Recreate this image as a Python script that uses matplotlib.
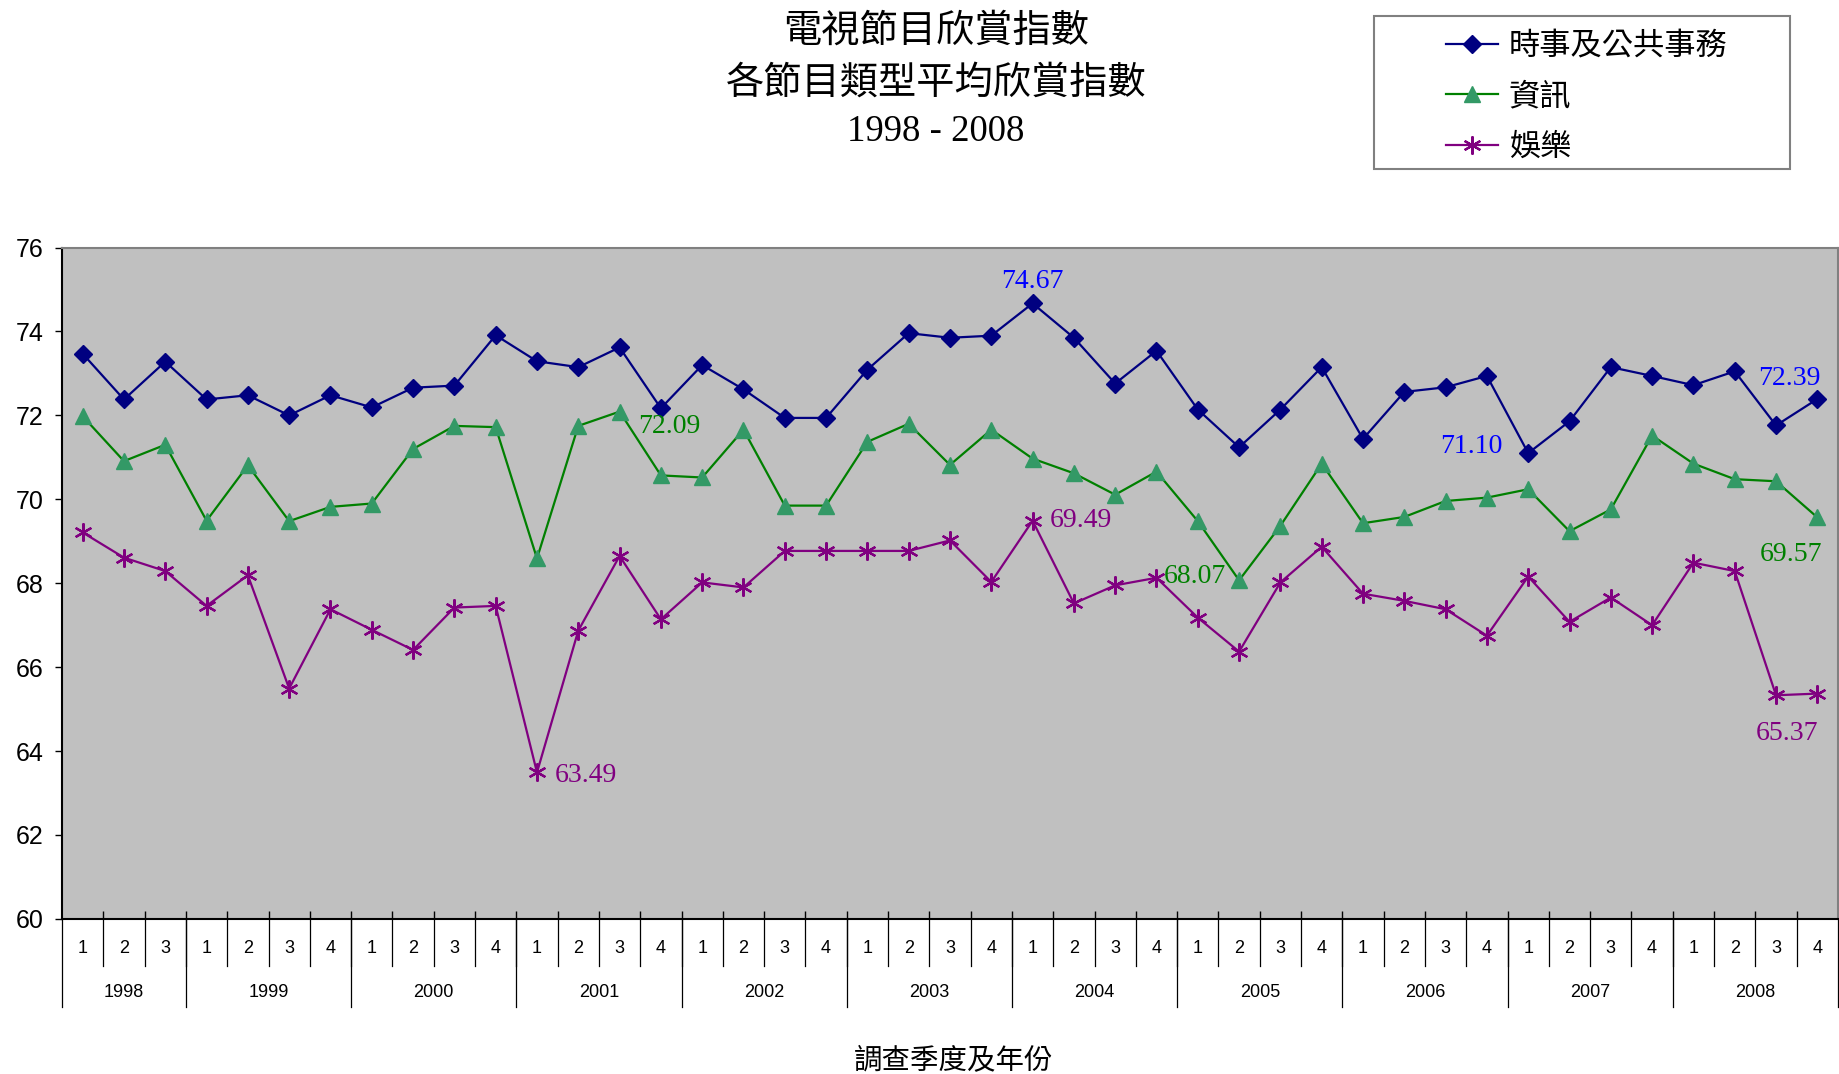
import matplotlib
matplotlib.use("Agg")
import matplotlib.pyplot as plt
from matplotlib.patches import Rectangle

# ---- data ----
years = ["1998", "1999", "2000", "2001", "2002", "2003",
         "2004", "2005", "2006", "2007", "2008"]
quarters_per_year = [3, 4, 4, 4, 4, 4, 4, 4, 4, 4, 4]
quarter_labels = ["1", "2", "3"] + ["1", "2", "3", "4"] * 10

series_names = ["時事及公共事務", "資訊", "娛樂"]

current_affairs = [73.47, 72.38, 73.28,
                   72.38, 72.48, 72.00, 72.48,
                   72.19, 72.66, 72.71, 73.91,
                   73.29, 73.15, 73.62, 72.17,
                   73.20, 72.62, 71.94, 71.94,
                   73.09, 73.96, 73.85, 73.90,
                   74.67, 73.85, 72.76, 73.54,
                   72.14, 71.24, 72.14, 73.15,
                   71.44, 72.56, 72.67, 72.94,
                   71.10, 71.86, 73.15, 72.94,
                   72.72, 73.05, 71.76, 72.39]

info = [71.98, 70.91, 71.30,
        69.49, 70.81, 69.48, 69.82,
        69.90, 71.20, 71.75, 71.72,
        68.59, 71.75, 72.09, 70.57,
        70.52, 71.66, 69.85, 69.85,
        71.37, 71.80, 70.82, 71.66,
        70.97, 70.62, 70.11, 70.66,
        69.48, 68.07, 69.37, 70.85,
        69.43, 69.58, 69.96, 70.04,
        70.24, 69.24, 69.76, 71.52,
        70.85, 70.48, 70.43, 69.57]

entertainment = [69.21, 68.61, 68.29,
                 67.46, 68.19, 65.49, 67.38,
                 66.89, 66.41, 67.42, 67.46,
                 63.49, 66.87, 68.65, 67.14,
                 68.02, 67.90, 68.77, 68.77,
                 68.77, 68.77, 69.02, 68.03,
                 69.49, 67.52, 67.95, 68.13,
                 67.18, 66.37, 68.02, 68.87,
                 67.75, 67.58, 67.38, 66.75,
                 68.16, 67.08, 67.66, 67.00,
                 68.49, 68.29, 65.33, 65.37]

# labelled points: (series index, point index)
labelled = [(0, 23), (0, 35), (0, 42),
            (1, 13), (1, 28), (1, 42),
            (2, 11), (2, 23), (2, 42)]
# label offsets in points (style only)
label_offsets = [(0, 16), (-41, 5), (-20, 15),
                 (36, -11), (-32, 3), (-19, -27),
                 (35, -2), (35, 0), (-22, -29)]

serif = ["Liberation Serif", "DejaVu Serif"]
cjk = ["Noto Sans CJK TC", "DejaVu Sans"]
sans = ["Liberation Sans", "DejaVu Sans"]

fig = plt.figure(figsize=(18.4, 10.74), dpi=100)
ax = fig.add_axes([0.0337, 0.1444, 0.9652, 0.6251])
ax.set_facecolor("#C0C0C0")

x = list(range(len(quarter_labels)))
all_series = [current_affairs, info, entertainment]
styles = [
    dict(color="#000080", marker="D", markersize=9, markerfacecolor="#000080",
         markeredgecolor="#000080"),
    dict(color="#008000", marker="^", markersize=11, markerfacecolor="#339966",
         markeredgecolor="#339966"),
    dict(color="#800080", marker=(6, 2, 0), markersize=13, markeredgewidth=1.6,
         markeredgecolor="#800080"),
]
label_colors = ["#0000FF", "#008000", "#800080"]

for vals, name, st in zip(all_series, series_names, styles):
    ax.plot(x, vals, linewidth=1.6, label=name, **st)

for (si, pi), off in zip(labelled, label_offsets):
    ax.annotate(f"{all_series[si][pi]:.2f}", (x[pi], all_series[si][pi]),
                xytext=off, textcoords="offset points", ha="center", va="center",
                fontsize=20, family=serif, color=label_colors[si],
                annotation_clip=False)

ax.set_xlim(-0.5, len(x) - 0.5)
ax.set_ylim(60, 76)
ax.set_yticks(range(60, 77, 2))
ax.tick_params(axis="y", direction="out", length=5, width=1, pad=8,
               labelsize=18)
for lab in ax.get_yticklabels():
    lab.set_family(sans)

# boundaries between categories
bounds = [i + 0.5 for i in x[:-1]]
ax.set_xticks(bounds)
ax.set_xticklabels([])
ax.tick_params(axis="x", direction="in", length=6, width=1)

for s in ["top", "right"]:
    ax.spines[s].set_color("#808080")
    ax.spines[s].set_linewidth(1.5)
for s in ["left", "bottom"]:
    ax.spines[s].set_color("black")
    ax.spines[s].set_linewidth(1.5)

# two-level category axis
tr = ax.get_xaxis_transform()
year_starts = []
pos = 0
for n in quarters_per_year:
    year_starts.append(pos)
    pos += n
year_edges = [s - 0.5 for s in year_starts] + [len(x) - 0.5]

for b in bounds:
    ax.plot([b, b], [0, -0.070], transform=tr, color="black", lw=0.9,
            clip_on=False)
for b in year_edges:
    ax.plot([b, b], [0, -0.131], transform=tr, color="black", lw=0.9,
            clip_on=False)
for xi, q in zip(x, quarter_labels):
    ax.text(xi, -0.044, q, transform=tr, ha="center", va="center",
            fontsize=13, family=sans)
for yr, st, n in zip(years, year_starts, quarters_per_year):
    ax.text(st + (n - 1) / 2, -0.109, yr, transform=tr, ha="center",
            va="center", fontsize=13, family=sans)

fig.text(0.518, 0.012, "調查季度及年份", ha="center", va="center",
         fontsize=20.5, family=cjk)

# title
fig.text(0.5087, 0.971, "電視節目欣賞指數", ha="center", va="center",
         fontsize=27.5, family=cjk)
fig.text(0.5087, 0.9226, "各節目類型平均欣賞指數", ha="center", va="center",
         fontsize=27.5, family=cjk)
fig.text(0.5087, 0.877, "1998 - 2008", ha="center", va="center",
         fontsize=26.5, family=serif)

# legend box
fig.patches.append(Rectangle((0.7467, 0.8426), 0.2261, 0.1425,
                             transform=fig.transFigure, fill=False,
                             edgecolor="#808080", linewidth=1.5))
handles, labels = ax.get_legend_handles_labels()
leg = fig.legend(handles, labels, loc="upper left",
                 bbox_to_anchor=(0.7775, 0.987), frameon=False,
                 prop={"family": cjk, "size": 22.5}, handlelength=1.65,
                 handletextpad=0.35, labelspacing=0.6, borderpad=0)

fig.savefig("out.png", dpi=100)
